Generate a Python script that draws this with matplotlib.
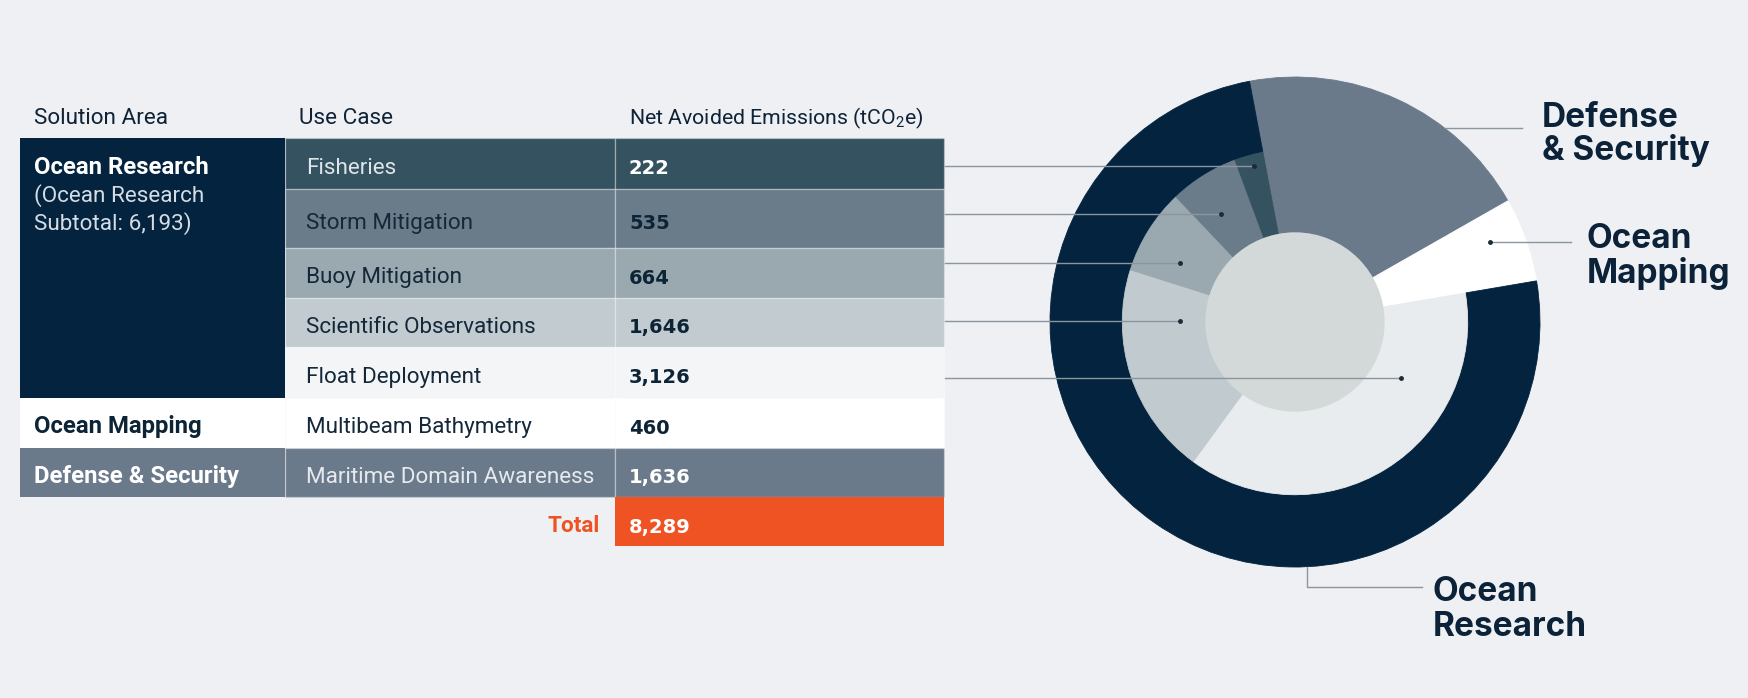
import matplotlib
matplotlib.use('Agg')
import matplotlib.pyplot as plt
from matplotlib.patches import Rectangle, Circle

# table data
solution_areas = ['Ocean Research', 'Ocean Mapping', 'Defense & Security']
use_cases = ['Fisheries', 'Storm Mitigation', 'Buoy Mitigation',
             'Scientific Observations', 'Float Deployment',
             'Multibeam Bathymetry', 'Maritime Domain Awareness']
case_area = [0, 0, 0, 0, 0, 1, 2]
emissions = [222, 535, 664, 1646, 3126, 460, 1636]
headers = ['Solution Area', 'Use Case', 'Net Avoided Emissions (tCO$_\\mathregular{2}$e)']

# colours
bg = '#eef0f3'
navy = '#03233e'
orange = '#f05323'
area_colors = [navy, '#ffffff', '#6b7a8b']
area_text = ['#ffffff', '#0d2437', '#ffffff']
case_colors = ['#34525f', '#6a7c8a', '#9aa8b0', '#c1cbd0', '#f3f5f7', '#ffffff', '#6b7a8b']
case_text = ['#dfe5ea', '#14283a', '#14283a', '#14283a', '#14283a', '#14283a', '#e6eaee']
value_text = ['#ffffff', '#0d2437', '#0d2437', '#0d2437', '#0d2437', '#0d2437', '#ffffff']
ring_case_colors = ['#34525f', '#6a7c8a', '#9aa8b0', '#c0cacf', '#e8ecee', '#ffffff', '#6b7a8b']

# layout (pixels)
row_edges = [138, 188.5, 247.5, 297.5, 347, 397.5, 447.5, 497, 546]
col_edges = [20, 285, 615, 944]
text_x = [34, 306, 629]
header_x = [34, 299, 629]
header_size = [16.2, 16.2, 15.3]
leader_y = [166, 214, 263, 321, 378]
leader_x = [1254, 1221, 1180, 1180, 1401]

totals = [sum(e for e, a in zip(emissions, case_area) if a == i) for i in range(3)]
grand_total = sum(emissions)

fig = plt.figure(figsize=(17.49, 6.98), dpi=100, facecolor=bg)
ax = fig.add_axes([0, 0, 1, 1])
ax.set_xlim(0, 1749)
ax.set_ylim(698, 0)
ax.axis('off')

body = dict(family='Roboto', fontsize=16.2)
num = dict(family='DejaVu Sans', fontsize=14, fontweight='bold')

for x, h, s in zip(header_x, headers, header_size):
    ax.text(x, 124, h, color='#0f2236', va='baseline', family='Roboto', fontsize=s)

edge = (1, 1, 1, 0.3)
for i, case in enumerate(use_cases):
    y0, y1 = row_edges[i], row_edges[i + 1]
    for c in (1, 2):
        ax.add_patch(Rectangle((col_edges[c], y0), col_edges[c + 1] - col_edges[c], y1 - y0,
                               facecolor=case_colors[i], edgecolor=edge, lw=1))
    base = (y0 + y1) / 2 + 11
    ax.text(text_x[1], base, case, color=case_text[i], va='baseline', **body)
    ax.text(text_x[2], base, '{:,}'.format(emissions[i]), color=value_text[i],
            va='baseline', **num)

# solution area column
for a, name in enumerate(solution_areas):
    rows = [i for i, ca in enumerate(case_area) if ca == a]
    y0, y1 = row_edges[rows[0]], row_edges[rows[-1] + 1]
    ax.add_patch(Rectangle((col_edges[0], y0), col_edges[1] - col_edges[0], y1 - y0,
                           facecolor=area_colors[a], edgecolor='none'))
    base = (row_edges[rows[0]] + row_edges[rows[0] + 1]) / 2 + 11
    ax.text(text_x[0], base, name, color=area_text[a], va='baseline',
            family='Roboto', fontsize=17.2, fontweight='bold')
    if len(rows) > 1:
        ax.text(text_x[0], base + 28, '(' + name, color='#d5dce3', va='baseline', **body)
        ax.text(text_x[0], base + 56, 'Subtotal: {:,})'.format(totals[a]),
                color='#d5dce3', va='baseline', **body)

# total row
y0, y1 = row_edges[-2], row_edges[-1]
ax.add_patch(Rectangle((col_edges[2], y0), col_edges[3] - col_edges[2], y1 - y0,
                       facecolor=orange, edgecolor='none'))
base = (y0 + y1) / 2 + 11
ax.text(600, base, 'Total', color=orange, ha='right', va='baseline',
        family='Roboto', fontsize=16.2, fontweight='bold')
ax.text(text_x[2], base, '{:,}'.format(grand_total), color='white', va='baseline', **num)

# donut
cx, cy, R = 1295, 322, 245
pax = fig.add_axes([(cx - R) / 1749, (698 - cy - R) / 698, 2 * R / 1749, 2 * R / 698])
outer_vals = [totals[2], totals[1], totals[0]]
outer_cols = [area_colors[2], '#ffffff', navy]
research = [i for i, ca in enumerate(case_area) if ca == 0][::-1]
inner_vals = [totals[2], totals[1]] + [emissions[i] for i in research]
inner_cols = [area_colors[2], '#ffffff'] + [ring_case_colors[i] for i in research]

w1, _ = pax.pie(outer_vals, radius=1.0, colors=outer_cols, startangle=100.7,
                counterclock=False, wedgeprops=dict(width=0.3, lw=0.6))
w2, _ = pax.pie(inner_vals, radius=0.705, colors=inner_cols, startangle=100.7,
                counterclock=False, wedgeprops=dict(width=0.34, lw=0.6))
for w in list(w1) + list(w2):
    w.set_edgecolor(w.get_facecolor())
pax.add_patch(Circle((0, 0), 0.366, facecolor='#d3d9d9', edgecolor='none'))
pax.set_xlim(-1, 1)
pax.set_ylim(-1, 1)
pax.axis('off')

# leader lines and labels on top
top = fig.add_axes([0, 0, 1, 1])
top.set_xlim(0, 1749)
top.set_ylim(698, 0)
top.axis('off')
top.patch.set_alpha(0)
line = dict(color='#8b959d', lw=1)
for y, x in zip(leader_y, leader_x):
    top.plot([col_edges[3] + 1, x], [y, y], **line)
    top.plot(x, y, 'o', ms=2.5, color='#1d2b36')

lab = dict(family='Inter', fontsize=24, fontweight='bold', color='#0b2239', va='baseline')
top.plot([1445, 1522], [128, 128], **line)
top.text(1542, 127, 'Defense', **lab)
top.text(1542, 160, '& Security', **lab)

top.plot([1490, 1571], [242, 242], **line)
top.plot(1490, 242, 'o', ms=2.5, color='#1d2b36')
top.text(1587, 248, 'Ocean', **lab)
top.text(1587, 283, 'Mapping', **lab)

top.plot([1307, 1307, 1422], [567, 587, 587], **line)
top.text(1433, 601, 'Ocean', **lab)
top.text(1433, 636, 'Research', **lab)

fig.savefig('out.png', dpi=100, facecolor=bg)
